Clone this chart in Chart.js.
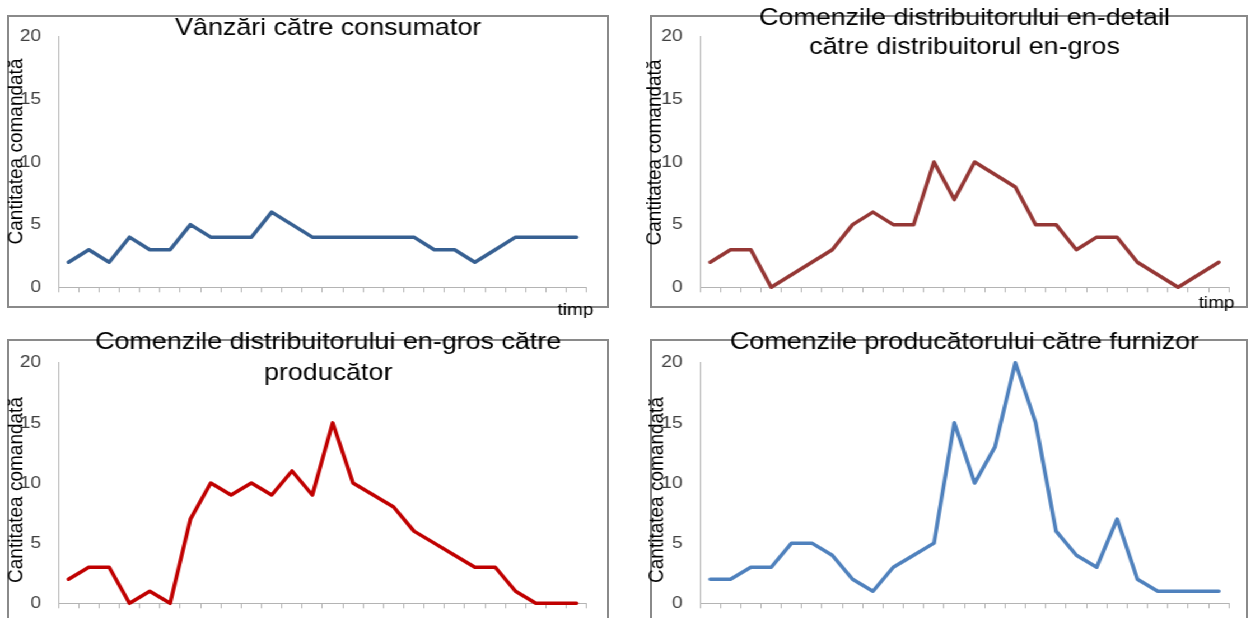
<!DOCTYPE html>
<html>
<head>
<meta charset="utf-8">
<script src="https://cdn.jsdelivr.net/npm/chart.js@4"></script>
<style>
  body { margin: 0; background: #fff; }
  .frame { position: absolute; border: 2px solid #8a8a8a; box-sizing: border-box; }
  #wrap { position: absolute; left: 0; top: 0; width: 1116px; height: 618px; transform: scaleX(1.12); transform-origin: 0 0; }
  #wrap canvas { position: absolute; }
</style>
</head>
<body>
<div class="frame" style="left:7px;top:15px;width:602px;height:293px"></div>
<div class="frame" style="left:650px;top:15px;width:598px;height:293px"></div>
<div class="frame" style="left:7px;top:339px;width:602px;height:300px"></div>
<div class="frame" style="left:650px;top:339px;width:598px;height:300px"></div>
<div id="wrap">
  <canvas id="c1" width="586" height="318" style="left:0;top:0"></canvas>
  <canvas id="c2" width="546" height="318" style="left:570px;top:0"></canvas>
  <canvas id="c3" width="586" height="300" style="left:0;top:318px"></canvas>
  <canvas id="c4" width="546" height="300" style="left:570px;top:318px"></canvas>
</div>
<script>
const periods = ['1','2','3','4','5','6','7','8','9','10','11','12','13',
                 '14','15','16','17','18','19','20','21','22','23','24','25','26'];
const consumerSales    = [2,3,2,4,3,3,5,4,4,4,6,5,4,4,4,4,4,4,3,3,2,3,4,4,4,4];
const retailerOrders   = [2,3,3,0,1,2,3,5,6,5,5,10,7,10,9,8,5,5,3,4,4,2,1,0,1,2];
const wholesalerOrders = [2,3,3,0,1,0,7,10,9,10,9,11,9,15,10,9,8,6,5,4,3,3,1,0,0,0];
const factoryOrders    = [2,2,3,3,5,5,4,2,1,3,4,5,15,10,13,20,15,6,4,3,7,2,1,1,1,1];
const yTicks = [0, 5, 10, 15, 20];

const yTitle = 'Cantitatea comandată';
const xTitle = 'timp';
const font = '"Liberation Sans", Arial, sans-serif';
const axisColor = '#b4b4b4';

// rotated y title and the "timp" label, both overlap other things in the original
const axisText = {
  id: 'axisText',
  afterDraw(chart, args, opts) {
    const ctx = chart.ctx;
    ctx.save();
    ctx.fillStyle = '#000';
    ctx.textAlign = 'center';
    ctx.textBaseline = 'middle';
    ctx.font = '19px ' + font;
    ctx.translate(opts.yx, opts.yy);
    ctx.rotate(-Math.PI / 2);
    ctx.fillText(yTitle, 0, 0);
    ctx.restore();
    if (opts.tx) {
      ctx.save();
      ctx.fillStyle = '#000';
      ctx.textAlign = 'center';
      ctx.textBaseline = 'middle';
      ctx.font = '17px ' + font;
      ctx.fillText(xTitle, opts.tx, opts.ty);
      ctx.restore();
    }
  }
};

function makeChart(id, title, values, color, p) {
  new Chart(document.getElementById(id), {
    type: 'line',
    data: {
      labels: periods,
      datasets: [{
        data: values,
        borderColor: color,
        borderWidth: 3.5,
        pointRadius: 0,
        tension: 0,
        borderJoinStyle: 'round',
        borderCapStyle: 'round',
        clip: false
      }]
    },
    options: {
      responsive: false,
      animation: false,
      layout: { padding: { left: 0, top: 0, right: p.right, bottom: p.bottom } },
      plugins: {
        legend: { display: false },
        tooltip: { enabled: false },
        title: {
          display: true,
          text: title,
          fullSize: p.full,
          color: '#000',
          font: { family: font, size: 24, weight: 'normal', lineHeight: p.lh + 'px' },
          padding: { top: p.tt, bottom: p.tb }
        },
        axisText: p.labels
      },
      scales: {
        x: {
          offset: true,
          ticks: { display: false },
          grid: { display: true, offset: true, drawOnChartArea: false, drawTicks: true, tickLength: 5, color: axisColor },
          border: { display: true, color: axisColor },
          // room on the right of the plot without moving a full-width title
          afterFit: s => { s.paddingRight = p.gapRight; }
        },
        y: {
          min: yTicks[0],
          max: yTicks[yTicks.length - 1],
          ticks: { stepSize: yTicks[1] - yTicks[0], padding: 15.5, color: '#404040', font: { family: font, size: 17 } },
          grid: { display: false, drawTicks: false },
          border: { display: true, color: axisColor },
          afterFit: s => { s.width = p.yw; s.paddingTop = 0; s.paddingBottom = 0; }
        }
      }
    },
    plugins: [axisText]
  });
}

makeChart('c1', 'Vânzări către consumator', consumerSales, '#376092',
  { full: true, right: 0, gapRight: 62.2, bottom: 25.7, lh: 20, tt: 18.5, tb: -1.8, yw: 52.1,
    labels: { yx: 14.7, yy: 151.5, tx: 513.8, ty: 310.3 } });
makeChart('c2', ['Comenzile distribuitorului en-detail', 'către distribuitorul en-gros'], retailerOrders, '#953735',
  { full: false, right: 18.7, gapRight: 0, bottom: 25.7, lh: 29, tt: 3.9, tb: -25.2, yw: 55,
    labels: { yx: 14.4, yy: 152.5, tx: 516.2, ty: 303.3 } });
makeChart('c3', ['Comenzile distribuitorului en-gros către', 'producător'], wholesalerOrders, '#c00000',
  { full: true, right: 0, gapRight: 62.2, bottom: 9.7, lh: 31, tt: 8.5, tb: -25.8, yw: 52.1,
    labels: { yx: 15, yy: 172 } });
makeChart('c4', 'Comenzile producătorului către furnizor', factoryOrders, '#4f81bd',
  { full: false, right: 18.7, gapRight: 0, bottom: 9.7, lh: 20, tt: 14, tb: 10.7, yw: 55,
    labels: { yx: 16.4, yy: 172 } });
</script>
</body>
</html>
